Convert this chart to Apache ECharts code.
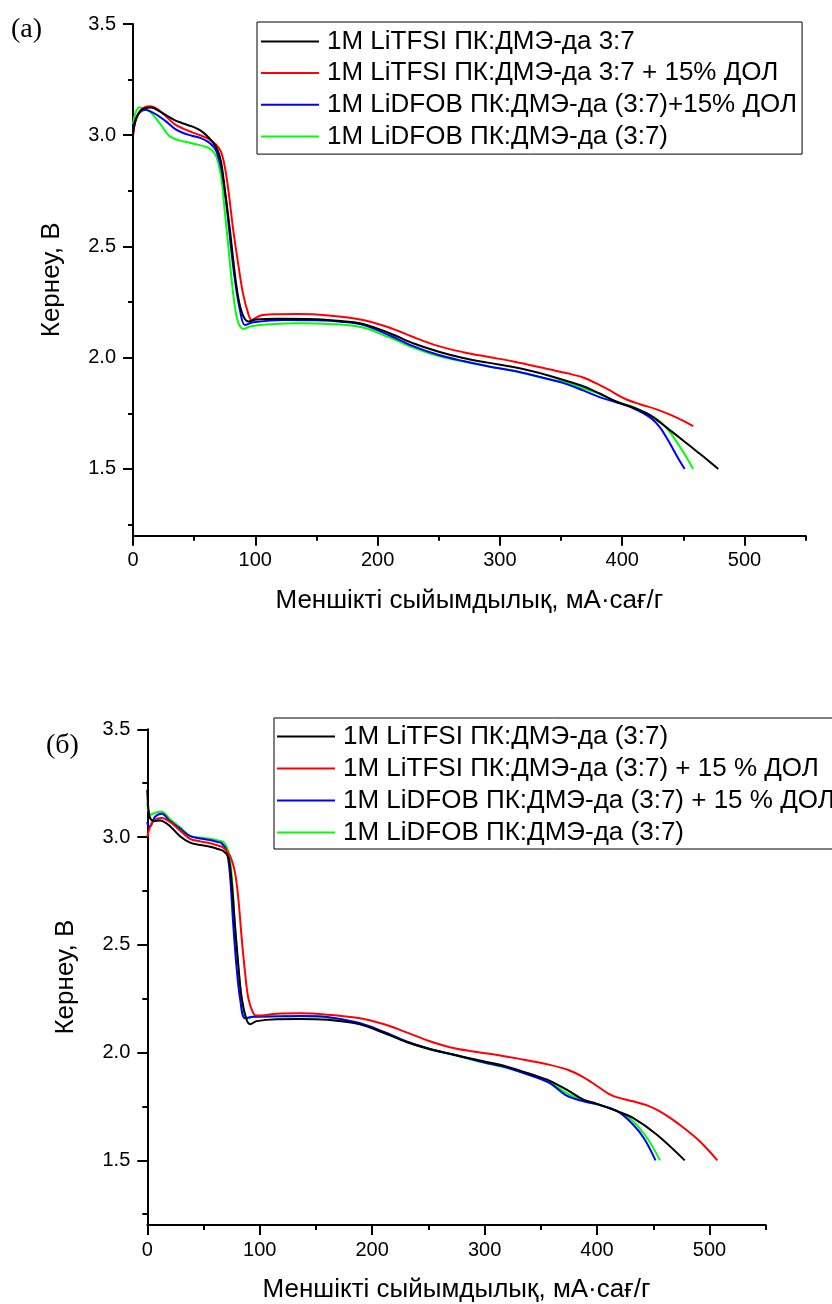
<!DOCTYPE html>
<html>
<head>
<meta charset="utf-8">
<script src="https://cdn.jsdelivr.net/npm/echarts@6/dist/echarts.min.js"></script>
<style>
  html, body { margin: 0; padding: 0; background: #ffffff; }
  #chart { width: 832px; height: 1304px; }
</style>
</head>
<body>
<div id="chart"></div>
<script>
// Discharge curves: capacity (mA·h/g) vs voltage (V), pairs [x, y]

// Panel (a)
const namesA = [
  '1M LiTFSI ПК:ДМЭ-да 3:7',
  '1M LiTFSI ПК:ДМЭ-да 3:7 + 15% ДОЛ',
  '1M LiDFOB ПК:ДМЭ-да (3:7)+15% ДОЛ',
  '1M LiDFOB ПК:ДМЭ-да (3:7)'
];
const a_tfsi = [[0,3.0],[1,3.04],[3,3.08],[6,3.11],[10,3.122],[15,3.125],[20,3.113],[27,3.09],[34,3.068],[41,3.053],[48,3.04],[55,3.022],[60,3.0],[65,2.97],[69,2.935],[72,2.88],[75,2.76],[79.3,2.572],[82,2.437],[86,2.272],[90,2.189],[94.3,2.163],[101,2.172],[120,2.175],[150,2.173],[170,2.165],[188,2.152],[210,2.11],[229,2.065],[250,2.027],[270,1.999],[290,1.978],[311,1.958],[330,1.935],[341,1.918],[352,1.9],[368,1.872],[382,1.838],[395,1.803],[409,1.776],[423,1.741],[431,1.709],[440,1.67],[450,1.627],[460,1.583],[470,1.539],[478.5,1.5]];
const a_tfsiDol = [[0,3.0],[1,3.04],[3,3.08],[6,3.11],[10,3.127],[14,3.13],[20,3.118],[27.5,3.082],[34,3.05],[41,3.03],[48,3.014],[55,3.0],[62,2.983],[68,2.958],[72,2.925],[75,2.86],[78,2.752],[82,2.572],[86,2.422],[90,2.287],[94.3,2.197],[97,2.17],[104,2.189],[115,2.195],[134,2.196],[160,2.19],[188,2.17],[210,2.135],[229,2.093],[250,2.052],[270,2.025],[290,2.004],[311,1.983],[340,1.948],[355,1.93],[368,1.911],[382,1.876],[390,1.853],[396,1.833],[404,1.811],[414.5,1.791],[428,1.768],[440,1.742],[450,1.716],[458,1.692]];
const a_dfobDol = [[0,3.035],[2,3.07],[5,3.1],[10,3.115],[15,3.105],[20,3.09],[27.5,3.06],[34,3.03],[41,3.01],[48,2.998],[55,2.988],[62,2.968],[66,2.947],[68.4,2.925],[72.5,2.842],[76.6,2.677],[80.1,2.497],[83.4,2.347],[87.5,2.212],[91.6,2.147],[98.3,2.159],[123,2.17],[150,2.168],[170,2.162],[188,2.148],[210,2.1],[229,2.052],[250,2.012],[270,1.985],[290,1.962],[311,1.941],[341,1.902],[352,1.886],[368,1.853],[382,1.822],[395,1.8],[409,1.773],[423,1.731],[431,1.686],[439,1.614],[445,1.555],[451,1.5]];
const a_dfob = [[0,3.05],[2,3.1],[5,3.125],[9,3.12],[14,3.105],[22,3.053],[30,2.995],[38,2.977],[49,2.963],[60,2.947],[65,2.93],[68,2.905],[70,2.87],[72.5,2.797],[75.2,2.647],[78,2.497],[80.7,2.347],[83.4,2.227],[86,2.159],[90.2,2.129],[95.6,2.14],[109,2.149],[136,2.155],[160,2.152],[188,2.136],[210,2.09],[229,2.046],[250,2.007],[270,1.983],[290,1.962],[311,1.941],[341,1.902],[352,1.891],[368,1.863],[382,1.836],[395,1.803],[409,1.779],[423,1.741],[431,1.713],[439,1.666],[450,1.575],[458,1.5]];

// Panel (б)
const namesB = [
  '1M LiTFSI ПК:ДМЭ-да (3:7)',
  '1M LiTFSI ПК:ДМЭ-да (3:7) + 15 % ДОЛ',
  '1M LiDFOB ПК:ДМЭ-да (3:7) + 15 % ДОЛ',
  '1M LiDFOB ПК:ДМЭ-да (3:7)'
];
const b_tfsi = [[0,3.22],[0.8,3.14],[2.4,3.089],[6,3.075],[11.3,3.077],[20.2,3.05],[29.1,3.004],[38,2.974],[47,2.963],[55.8,2.955],[62,2.946],[67.6,2.935],[72.1,2.905],[75.1,2.789],[78,2.589],[81,2.404],[84,2.251],[88.4,2.151],[91.4,2.132],[97.3,2.146],[115,2.155],[136,2.156],[160,2.152],[188,2.132],[210,2.092],[230,2.05],[250,2.018],[270,1.993],[299,1.96],[320,1.935],[343,1.897],[358,1.869],[373,1.828],[388,1.782],[400,1.762],[418,1.728],[432,1.697],[453,1.62],[478,1.5]];
const b_tfsiDol = [[0,3.0],[2,3.04],[5.3,3.074],[12.8,3.089],[20.2,3.07],[29.1,3.031],[38,2.992],[47,2.98],[55.8,2.971],[62,2.962],[67.6,2.951],[73.6,2.912],[78,2.835],[81,2.712],[84,2.528],[86.9,2.374],[89.9,2.251],[94.3,2.182],[97.3,2.172],[115,2.18],[136,2.182],[160,2.176],[188,2.16],[210,2.133],[230,2.095],[250,2.055],[269,2.025],[290,2.005],[310,1.99],[330,1.972],[358,1.943],[375,1.918],[388,1.885],[400,1.845],[410,1.81],[418,1.792],[432,1.774],[445,1.754],[455,1.73],[465,1.697],[477,1.651],[492,1.585],[507,1.5]];
const b_dfobDol = [[0,3.07],[1,3.05],[2.4,3.05],[6.9,3.094],[12.8,3.108],[20.2,3.074],[29.1,3.039],[38,3.004],[47,2.993],[55.8,2.986],[62,2.978],[66.2,2.971],[70.6,2.935],[73.6,2.82],[76.5,2.589],[79.5,2.389],[82.5,2.251],[86.9,2.159],[94.3,2.166],[115,2.168],[136,2.17],[160,2.165],[188,2.138],[210,2.097],[230,2.053],[250,2.019],[270,1.993],[299,1.955],[320,1.93],[343,1.89],[358,1.858],[373,1.8],[388,1.774],[400,1.76],[418,1.728],[432,1.666],[442,1.6],[452,1.5]];
const b_dfob = [[0,3.158],[1,3.12],[2.4,3.104],[8.4,3.115],[12.8,3.117],[20.2,3.083],[29.1,3.046],[38,3.007],[47,2.998],[55.8,2.992],[62,2.985],[67.6,2.977],[72.1,2.935],[75.1,2.82],[78,2.589],[81,2.389],[84,2.251],[88.4,2.159],[94.3,2.166],[115,2.168],[136,2.168],[160,2.163],[188,2.136],[210,2.095],[230,2.051],[250,2.017],[270,1.992],[299,1.954],[320,1.929],[343,1.891],[358,1.862],[373,1.812],[388,1.775],[400,1.76],[418,1.728],[432,1.681],[445,1.6],[456,1.5]];

// Axis ticks and labels
const xMajor = [0, 100, 200, 300, 400, 500];
const xMinor = [50, 150, 250, 350, 450, 550];
const yMajor = [1.5, 2.0, 2.5, 3.0, 3.5];
const yMinor = [1.25, 1.75, 2.25, 2.75, 3.25];
const xTitle = 'Меншікті сыйымдылық, мА·сағ/г';
const yTitle = 'Кернеу, В';
const colors = ['#000000', '#ff0000', '#0000ff', '#00ff00'];

const FONT = '"Liberation Sans", Arial, sans-serif';
const AXIS_W = 2;

function xAxes(gridIndex) {
  return [
    {
      type: 'value', gridIndex, min: 0, max: 550, position: 'bottom',
      name: xTitle, nameLocation: 'middle', nameGap: 52,
      nameTextStyle: { fontFamily: FONT, fontSize: 26, color: '#000' },
      axisLine: { show: true, onZero: false, lineStyle: { color: '#000', width: AXIS_W } },
      axisTick: { show: true, customValues: xMajor, length: 10, lineStyle: { color: '#000', width: AXIS_W } },
      axisLabel: { show: true, customValues: xMajor, margin: 15, fontFamily: FONT, fontSize: 20, color: '#000',
                   formatter: v => String(Math.round(v)) },
      splitLine: { show: false }
    },
    {
      type: 'value', gridIndex, min: 0, max: 550, position: 'bottom',
      axisLine: { show: false, onZero: false },
      axisTick: { show: true, customValues: xMinor, length: 5, lineStyle: { color: '#000', width: AXIS_W } },
      axisLabel: { show: false },
      splitLine: { show: false }
    }
  ];
}

function yAxes(gridIndex) {
  return [
    {
      type: 'value', gridIndex, min: 1.2, max: 3.5, position: 'left',
      name: yTitle, nameLocation: 'middle', nameGap: 68, nameRotate: 90,
      nameTextStyle: { fontFamily: FONT, fontSize: 26, color: '#000' },
      axisLine: { show: true, onZero: false, lineStyle: { color: '#000', width: AXIS_W } },
      axisTick: { show: true, customValues: yMajor, length: 10, lineStyle: { color: '#000', width: AXIS_W } },
      axisLabel: { show: true, customValues: yMajor, margin: 17, fontFamily: FONT, fontSize: 20, color: '#000',
                   formatter: v => v.toFixed(1) },
      splitLine: { show: false }
    },
    {
      type: 'value', gridIndex, min: 1.2, max: 3.5, position: 'left',
      axisLine: { show: false, onZero: false },
      axisTick: { show: true, customValues: yMinor, length: 5, lineStyle: { color: '#000', width: AXIS_W } },
      axisLabel: { show: false },
      splitLine: { show: false }
    }
  ];
}

function lines(names, datasets, axisIndex) {
  return datasets.map((d, i) => ({
    type: 'line', name: names[i], data: d,
    xAxisIndex: axisIndex, yAxisIndex: axisIndex,
    showSymbol: false, symbol: 'none', smooth: 0.35,
    lineStyle: { color: colors[i], width: 2 }, itemStyle: { color: colors[i] },
    z: 10 - i
  }));
}

function legend(names, left, top, padding, gap) {
  return {
    orient: 'vertical', left, top, padding, itemGap: gap,
    icon: 'rect', itemWidth: 58, itemHeight: 2,
    borderColor: '#000', borderWidth: 1,
    data: names, selectedMode: false,
    textStyle: { fontFamily: FONT, fontSize: 26, lineHeight: 26, color: '#000', padding: [0, 0, 0, 3] }
  };
}

const chart = echarts.init(document.getElementById('chart'), null, { renderer: 'canvas' });
chart.setOption({
  animation: false,
  backgroundColor: '#ffffff',
  grid: [
    { left: 133, top: 24, width: 672.7, height: 511.7 },
    { left: 147.3, top: 729.3, width: 618.4, height: 497.4 }
  ],
  xAxis: [...xAxes(0), ...xAxes(1)],
  yAxis: [...yAxes(0), ...yAxes(1)],
  legend: [
    legend(namesA, 257, 22, [6.4, 5, 4.6, 4], 5.7),
    legend(namesB, 274, 718, [5.4, 5, 3.6, 3], 6)
  ],
  graphic: [
    { type: 'text', left: 11, top: 16, style: { text: '(a)', font: '28px "Liberation Serif", "Times New Roman", serif', fill: '#000' } },
    { type: 'text', left: 46, top: 732, style: { text: '(б)', font: '28px "Liberation Serif", "Times New Roman", serif', fill: '#000' } }
  ],
  series: [
    ...lines(namesA, [a_tfsi, a_tfsiDol, a_dfobDol, a_dfob], 0),
    ...lines(namesB, [b_tfsi, b_tfsiDol, b_dfobDol, b_dfob], 2)
  ]
});
</script>
</body>
</html>
